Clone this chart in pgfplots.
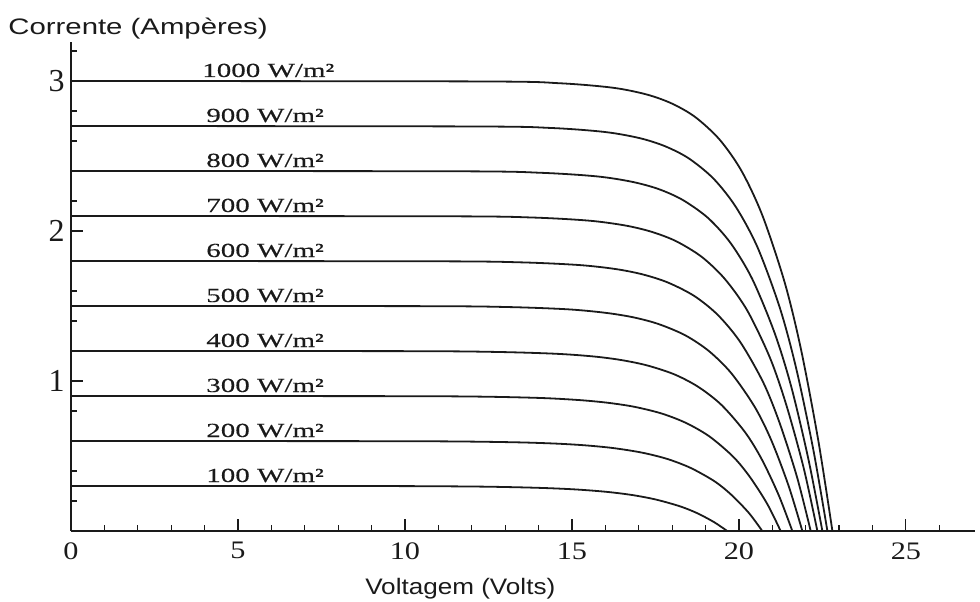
\documentclass[border=0pt]{standalone}
\usepackage{fontspec}
\usepackage{pgfplots}
\pgfplotsset{compat=1.18}
\setmainfont{Liberation Serif}
\newfontfamily\curvefont[FakeStretch=1.45,FakeBold=0.35]{Liberation Serif}
\newfontfamily\xtickfont[FakeStretch=1.2]{Liberation Serif}
\newfontfamily\ytickfont{Liberation Serif}
\newfontfamily\xlabfont[FakeStretch=1.165]{Liberation Sans}
\newfontfamily\ylabfont[FakeStretch=1.31]{Liberation Sans}
\definecolor{ink}{HTML}{1A1A1A}
\tikzset{
  iv/.style={ink, line width=0.9pt, smooth, mark=none},
  lbl/.style={anchor=base west, inner sep=0pt, text=ink, yshift=2pt,
              font=\curvefont\fontsize{10}{12}\selectfont},
}

\begin{document}
\begin{tikzpicture}
\begin{axis}[
  scale only axis,
  width=452pt, height=244.5pt,
  xmin=0, xmax=27.07, ymin=0, ymax=3.26,
  axis lines=left,
  axis line style={ink, line width=0.75pt, -},
  xtick={0,5,10,15,20,25},
  minor xtick={1,2,3,4,6,7,8,9,11,12,13,14,16,17,18,19,21,22,23,24,26},
  ytick={1,2,3},
  minor ytick={0.2,0.4,0.6,0.8,1.2,1.4,1.6,1.8,2.2,2.4,2.6,2.8,3.2},
  tick align=inside,
  major tick length=6pt, minor tick length=3pt,
  every tick/.style={ink, line width=0.6pt},
  /pgf/number format/assume math mode=true,
  xticklabel style={font=\xtickfont\fontsize{12.6}{14}\selectfont, text=ink, anchor=north, inner sep=0pt, yshift=-5.5pt},
  yticklabel style={font=\ytickfont\fontsize{16}{18}\selectfont, text=ink, anchor=east, inner sep=0pt, xshift=-3pt},
  clip=false,
]
% I-V curves of the panel, one per irradiance level
\addplot[iv] coordinates {(0,3.000) (12.30,2.997) (14.63,2.985) (16.23,2.955) (17.24,2.910) (17.99,2.850) (18.69,2.760) (19.42,2.610) (20.08,2.400) (20.71,2.100) (21.38,1.650) (21.87,1.200) (22.38,0.600) (22.80,0)};
\addplot[iv] coordinates {(0,2.700) (11.97,2.697) (14.36,2.687) (15.99,2.660) (17.03,2.619) (17.79,2.565) (18.50,2.484) (19.24,2.349) (19.91,2.160) (20.56,1.890) (21.23,1.485) (21.72,1.080) (22.23,0.540) (22.65,0)};
\addplot[iv] coordinates {(0,2.400) (11.63,2.398) (14.08,2.388) (15.75,2.364) (16.80,2.328) (17.59,2.280) (18.31,2.208) (19.07,2.088) (19.75,1.920) (20.40,1.680) (21.07,1.320) (21.57,0.960) (22.08,0.480) (22.50,0)};
\addplot[iv] coordinates {(0,2.100) (11.30,2.098) (13.80,2.090) (15.51,2.069) (16.59,2.037) (17.38,1.995) (18.12,1.932) (18.89,1.827) (19.58,1.680) (20.25,1.470) (20.93,1.155) (21.42,0.840) (21.94,0.420) (22.35,0)};
\addplot[iv] coordinates {(0,1.800) (10.92,1.798) (13.47,1.791) (15.22,1.773) (16.32,1.746) (17.13,1.710) (17.88,1.656) (18.67,1.566) (19.37,1.440) (20.04,1.260) (20.73,0.990) (21.22,0.720) (21.74,0.360) (22.15,0)};
\addplot[iv] coordinates {(0,1.500) (10.49,1.499) (13.09,1.493) (14.87,1.478) (15.99,1.455) (16.83,1.425) (17.59,1.380) (18.39,1.305) (19.10,1.200) (19.78,1.050) (20.48,0.825) (20.98,0.600) (21.49,0.300) (21.90,0)};
\addplot[iv] coordinates {(0,1.200) (10.01,1.199) (12.67,1.194) (14.48,1.182) (15.63,1.164) (16.47,1.140) (17.25,1.104) (18.07,1.044) (18.79,0.960) (19.48,0.840) (20.18,0.660) (20.68,0.480) (21.19,0.240) (21.60,0)};
\addplot[iv] coordinates {(0,0.900) (9.48,0.899) (12.19,0.896) (14.04,0.887) (15.21,0.873) (16.07,0.855) (16.87,0.828) (17.69,0.783) (18.42,0.720) (19.12,0.630) (19.83,0.495) (20.33,0.360) (20.85,0.180) (21.25,0)};
\addplot[iv] coordinates {(0,0.600) (8.74,0.599) (11.51,0.597) (13.39,0.591) (14.59,0.582) (15.46,0.570) (16.27,0.552) (17.11,0.522) (17.86,0.480) (18.56,0.420) (19.28,0.330) (19.78,0.240) (20.30,0.120) (20.70,0)};
\addplot[iv] coordinates {(0,0.300) (7.51,0.300) (10.33,0.299) (12.25,0.296) (13.47,0.291) (14.36,0.285) (15.19,0.276) (16.04,0.261) (16.80,0.240) (17.51,0.210) (18.23,0.165) (18.74,0.120) (19.25,0.060) (19.65,0)};

% irradiance labels above each curve
\node[lbl] at (axis cs:3.92,3.0) {1000 W/m²};
\node[lbl] at (axis cs:4.04,2.7) {900 W/m²};
\node[lbl] at (axis cs:4.04,2.4) {800 W/m²};
\node[lbl] at (axis cs:4.04,2.1) {700 W/m²};
\node[lbl] at (axis cs:4.04,1.8) {600 W/m²};
\node[lbl] at (axis cs:4.04,1.5) {500 W/m²};
\node[lbl] at (axis cs:4.04,1.2) {400 W/m²};
\node[lbl] at (axis cs:4.04,0.9) {300 W/m²};
\node[lbl] at (axis cs:4.04,0.6) {200 W/m²};
\node[lbl] at (axis cs:4.04,0.3) {100 W/m²};

% axis titles
\node[anchor=base west, inner sep=0pt, text=ink, font=\xlabfont\fontsize{11.2}{13}\selectfont]
  at (axis cs:8.80,-0.42) {Voltagem (Volts)};
\node[anchor=base west, inner sep=0pt, text=ink, font=\ylabfont\fontsize{11.2}{13}\selectfont]
  at (axis cs:-1.886,3.307) {Corrente (Ampères)};
\end{axis}
\pgfresetboundingbox
\path[use as bounding box] (-35.5pt,-35pt) rectangle (454.5pt,265.5pt);
\end{tikzpicture}
\end{document}
